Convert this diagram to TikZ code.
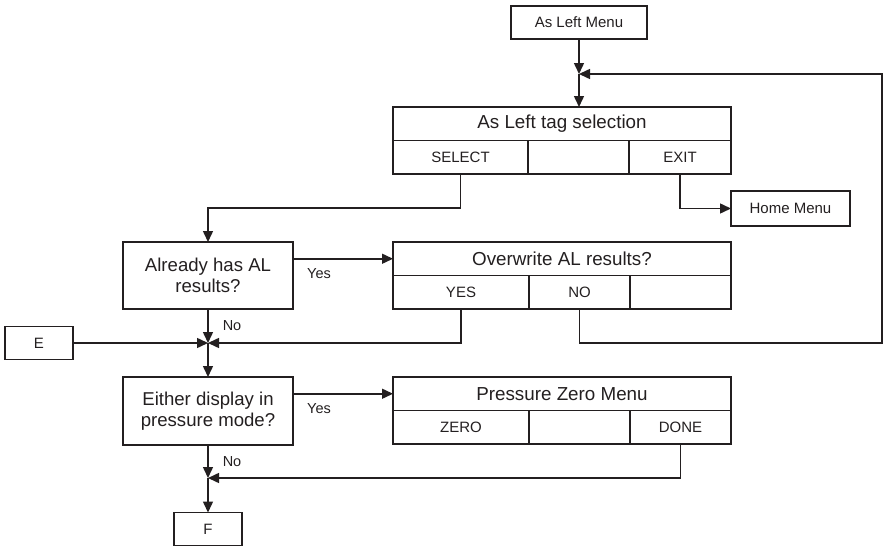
\documentclass[tikz,border=0pt]{standalone}
\usepackage{fontspec}
\setmainfont{Liberation Sans}
\usetikzlibrary{arrows.meta,positioning}
\definecolor{Ink}{RGB}{35,31,32}

\begin{document}
\begin{tikzpicture}[
  x=1pt, y=-1pt,
  box/.style={
    draw=Ink,
    text=Ink,
    line width=1.5pt,
    outer sep=0pt,
    inner sep=0pt,
    minimum width=68pt,
    minimum height=33pt,
    font=\fontsize{15}{18}\selectfont
  },
  question/.style={
    box,
    align=center,
    minimum width=170pt,
    font=\fontsize{18.6}{21.5}\selectfont
  },
  title/.style={box, minimum width=338pt, minimum height=33.5pt,
    font=\fontsize{18.8}{22}\selectfont},
  key/.style={box, minimum height=33.5pt},
  flow/.style={-{Triangle[length=11pt,width=10pt]}, line width=1.5pt, Ink},
  tag/.style={font=\fontsize{14.5}{17}\selectfont, text=Ink, inner sep=0pt}
]
\useasboundingbox (0,0) rectangle (887,546);

\node[box, minimum width=136pt] (alm) at (579,22.5) {As Left Menu};
\coordinate (j1) at (579,74);

\node[title] (tagsel) at (562,123.75) {As Left tag selection};
\node[key, minimum width=135pt, below right=0pt of tagsel.south west] (tagsel-sel) {SELECT};
\node[key, minimum width=101pt, right=0pt of tagsel-sel] (tagsel-mid) {};
\node[key, minimum width=102pt, right=0pt of tagsel-mid] (tagsel-exit) {EXIT};

\node[box, minimum width=119pt, minimum height=35pt] (home) at (790.5,208.5) {Home Menu};

\node[question, minimum height=67pt] (already) at (208,275.5) {Already has AL\\results?};

\node[title] (ovr) at (562,258.75) {Overwrite AL results?};
\node[key, minimum width=136pt, below right=0pt of ovr.south west] (ovr-yes) {YES};
\node[key, minimum width=101pt, right=0pt of ovr-yes] (ovr-no) {NO};
\node[key, minimum width=101pt, right=0pt of ovr-no] (ovr-blank) {};

\node[box] (e) at (39,343) {E};
\coordinate (j2) at (208,343);
\coordinate (loop) at (882,343);

\node[question, minimum height=68pt] (either) at (208,411) {Either display in\\pressure mode?};

\node[title] (pzero) at (562,393.75) {Pressure Zero Menu};
\node[key, minimum width=136pt, below right=0pt of pzero.south west] (pz-zero) {ZERO};
\node[key, minimum width=101pt, right=0pt of pz-zero] (pz-mid) {};
\node[key, minimum width=101pt, right=0pt of pz-mid] (pz-done) {DONE};

\coordinate (j3) at (208,478);
\node[box] (f) at (208,529) {F};

\draw[flow] (alm.south) -- (j1);
\draw[flow] (j1) -- (j1 |- tagsel.north);
\draw[flow] (tagsel-sel.south) -- ++(0,34) -| (already.north);
\draw[flow] (tagsel-exit.south) |- (home.west);

\draw[flow] (already.east |- ovr.west) --
  node[tag, below=9pt, pos=0.26]{Yes} (ovr.west);
\draw[flow] (already.south) -- node[tag, right=14pt]{No} (j2);
\draw[flow] (e.east) -- (j2);
\draw[flow] (ovr-yes.south) |- (j2);
\draw[flow] (ovr-no.south) |- (loop) |- (j1);
\draw[flow] (j2) -- (either.north);

\draw[flow] (either.east |- pzero.west) --
  node[tag, below=9pt, pos=0.26]{Yes} (pzero.west);
\draw[flow] (either.south) -- node[tag, right=14pt]{No} (j3);
\draw[flow] (pz-done.south) |- (j3);
\draw[flow] (j3) -- (f.north);
\end{tikzpicture}
\end{document}
